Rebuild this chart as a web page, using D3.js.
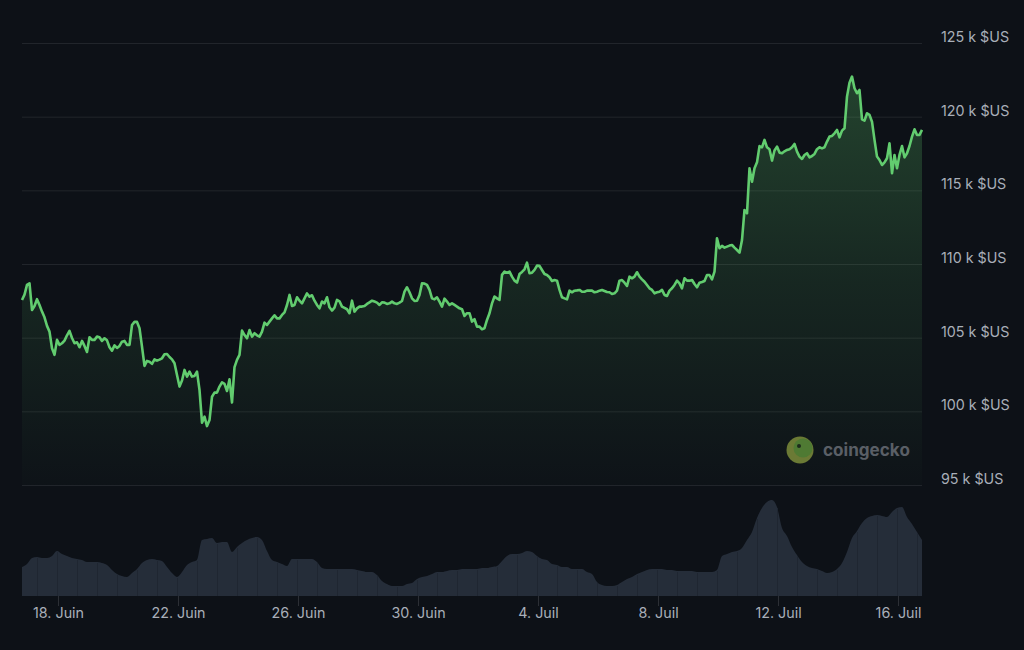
<!DOCTYPE html>
<html lang="fr"><head><meta charset="utf-8">
<script src="https://cdn.jsdelivr.net/npm/d3@7/dist/d3.min.js"></script>
<style>
html,body{margin:0;padding:0;background:#0d1117;overflow:hidden}
svg{display:block}
text{font-family:Inter,"Noto Sans",sans-serif}
</style></head><body>
<svg id="c" width="1024" height="650"></svg>
<script>
// Price in k$US, one reading every 2 hours
const prices = [107.56,107.92,108.58,108.69,106.88,107.15,107.61,107.22,106.77,106.38,105.80,105.41,104.28,103.83,104.85,104.51,104.62,104.80,105.16,105.46,104.98,104.62,104.69,104.35,104.78,104.44,104.03,105.03,104.85,104.85,105.07,105.03,104.78,104.96,104.82,104.35,104.12,104.48,104.30,104.44,104.73,104.78,104.51,104.51,105.86,106.07,106.07,105.64,104.39,103.08,103.42,103.37,103.22,103.53,103.44,103.51,103.60,103.87,103.89,103.69,103.53,103.26,102.47,101.68,102.09,102.81,102.36,102.70,102.36,102.40,102.70,101.45,99.23,99.64,99.00,99.41,100.99,101.27,101.27,101.68,101.97,101.86,101.38,102.18,100.60,103.00,103.49,103.83,105.48,105.18,104.96,105.52,105.07,105.30,105.16,105.07,105.41,106.02,105.86,106.09,106.31,106.52,106.31,106.31,106.54,106.72,107.22,107.90,107.15,107.22,107.74,107.51,
107.33,107.67,108.00,107.79,107.88,107.51,107.22,106.99,107.45,107.33,107.74,107.06,106.84,107.04,107.56,107.47,107.11,107.02,106.93,106.66,107.51,106.77,106.99,107.11,107.11,107.15,107.29,107.40,107.51,107.45,107.38,107.22,107.40,107.38,107.29,107.33,107.45,107.33,107.29,107.38,107.49,108.13,108.42,108.08,107.67,107.49,107.51,107.90,108.69,108.67,108.58,108.24,107.67,107.60,107.74,107.45,107.11,107.65,107.45,107.22,107.33,107.22,107.11,106.99,106.93,106.47,106.66,106.66,106.09,106.25,105.75,105.75,105.57,105.64,106.20,106.66,107.33,107.79,107.67,107.56,109.26,109.48,109.41,109.48,109.14,108.87,108.74,109.32,109.46,109.64,110.09,109.37,109.41,109.60,
109.89,109.87,109.59,109.32,109.25,109.10,108.85,108.91,108.87,108.24,107.74,107.67,107.60,108.19,108.08,108.19,108.21,108.24,108.12,108.12,108.19,108.19,108.19,108.08,108.12,108.19,108.24,108.17,108.10,108.08,107.96,108.01,108.19,108.87,108.91,108.73,108.51,109.14,109.03,109.14,109.44,109.14,108.96,108.80,108.58,108.35,108.24,108.01,108.08,108.12,108.24,107.90,107.83,108.19,108.35,108.58,108.87,108.69,108.35,109.03,108.87,108.87,108.91,108.64,108.42,108.73,108.78,108.85,109.25,109.25,108.96,109.48,
111.75,111.07,111.23,111.11,111.18,111.25,111.29,111.11,110.95,110.77,111.63,113.67,113.44,116.50,115.59,116.50,116.90,118.00,117.92,118.42,117.92,117.79,117.02,117.70,117.97,117.56,117.52,117.65,117.74,117.79,117.92,118.15,117.63,117.29,117.13,117.40,117.52,117.24,117.33,117.47,117.79,117.92,117.85,117.92,118.31,118.65,118.69,118.87,119.10,118.60,119.05,119.21,121.36,122.31,122.72,121.93,121.59,121.81,119.82,119.73,120.23,120.12,119.66,118.42,117.29,117.06,116.72,116.90,117.18,118.19,116.16,117.40,116.50,117.40,118.01,117.24,117.52,118.01,118.65,119.14,118.76,118.76,119.10];
// Traded volume (Md$US, relative), one reading every 4 hours
const volumes = [29,32,38,39,38,38,40,45,42,40,38,37,36,34,34,34,33,31,26,22,20,19,23,27,33,36,37,36,35,29,23,19,24,31,34,36,56,57,58,53,54,54,44,49,53,56,58,59,56,45,36,34,32,30,37,37,37,37,37,34,28,27,27,27,27,27,27,26,25,24,24,21,15,12,10,10,10,12,13,17,19,20,22,24,24,25,26,26,27,27,27,27,28,28,29,30,35,40,42,42,43,45,44,40,37,36,32,31,29,29,27,27,27,24,22,14,11,10,10,11,14,17,19,22,24,26,27,27,27,26,26,25,25,25,25,24,24,24,24,26,40,42,44,45,48,56,64,78,88,94,96,89,68,60,49,41,34,30,28,27,25,23,24,27,33,44,58,65,73,78,80,81,80,79,84,88,89,79,72,64,56];
const priceTicks = [95,100,105,110,115,120,125];
const priceLabels = ["95 k $US","100 k $US","105 k $US","110 k $US","115 k $US","120 k $US","125 k $US"];
const dateTicks = ["2025-06-18","2025-06-22","2025-06-26","2025-06-30","2025-07-04","2025-07-08","2025-07-12","2025-07-16"];
const dateLabels = ["18. Juin","22. Juin","26. Juin","30. Juin","4. Juil","8. Juil","12. Juil","16. Juil"];
const startTime = Date.UTC(2025,5,16,19,12);
const HOUR = 3600e3;

const svg = d3.select("#c");
const x = d3.scaleUtc().domain([new Date(startTime), new Date(startTime+720*HOUR)]).range([22,922]);
const y = d3.scaleLinear().domain([95,125]).range([485,43]);
const yV = d3.scaleLinear().domain([0,100]).range([596,496]);
const priceTime = i => new Date(startTime + i*2*HOUR);
const volTime = i => new Date(startTime + i*4*HOUR);

const defs = svg.append("defs");
const g = defs.append("linearGradient").attr("id","fade").attr("gradientUnits","userSpaceOnUse")
  .attr("x1",0).attr("x2",0).attr("y1",y(122.7)).attr("y2",y(95));
g.append("stop").attr("offset",0).attr("stop-color","#5fc96c").attr("stop-opacity",0.27);
g.append("stop").attr("offset",0.5).attr("stop-color","#5fc96c").attr("stop-opacity",0.12);
g.append("stop").attr("offset",1).attr("stop-color","#5fc96c").attr("stop-opacity",0.01);

// Grid
svg.append("g").selectAll("line").data(priceTicks).join("line")
  .attr("x1",22).attr("x2",922).attr("y1",d=>y(d)+.5).attr("y2",d=>y(d)+.5)
  .attr("stroke","#ffffff").attr("stroke-opacity",0.085);

// Volume: continuous silhouette with thin darker seams every fourth reading
const volArea = d3.area().x((d,i)=>x(volTime(i))).y0(yV(0)).y1(d=>yV(d)).curve(d3.curveMonotoneX);
svg.append("path").datum(volumes).attr("d",volArea).attr("fill","#252d39");
svg.append("g").selectAll("line").data(volumes.map((v,i)=>({v,i})).filter(d=>d.i%4===3)).join("line")
  .attr("x1",d=>x(volTime(d.i))+.5).attr("x2",d=>x(volTime(d.i))+.5)
  .attr("y1",d=>yV(d.v)+1).attr("y2",yV(0))
  .attr("stroke","#1f2631").attr("stroke-width",1);

// Price area + line
const area = d3.area().x((d,i)=>x(priceTime(i))).y0(y(95)).y1(d=>y(d));
const line = d3.line().x((d,i)=>x(priceTime(i))).y(d=>y(d));
svg.append("path").datum(prices).attr("d",area).attr("fill","url(#fade)");
svg.append("path").datum(prices).attr("d",line).attr("fill","none")
  .attr("stroke","#62cc6f").attr("stroke-width",2.6).attr("stroke-linejoin","round");

// Right axis
const yAxis = d3.axisRight(y).tickValues(priceTicks).tickSize(0).tickPadding(0)
  .tickFormat((d,i)=>priceLabels[i]);
const ya = svg.append("g").attr("transform","translate(941,-6)").call(yAxis);
ya.select(".domain").remove();
ya.selectAll("text").attr("fill","#a9afb9").attr("font-size",14.3).style("font-family","Inter,'Noto Sans',sans-serif");

// Bottom axis
const xAxis = d3.axisBottom(x).tickValues(dateTicks.map(d=>new Date(d))).tickSize(10).tickPadding(2)
  .tickFormat((d,i)=>dateLabels[i]);
const xa = svg.append("g").attr("transform","translate(0,596)").call(xAxis);
xa.select(".domain").remove();
xa.selectAll("line").attr("stroke","#ffffff").attr("stroke-opacity",0.13);
xa.selectAll("text").attr("fill","#a9afb9").attr("font-size",14.3).style("font-family","Inter,'Noto Sans',sans-serif");

// Watermark
const wm = svg.append("g");
wm.append("circle").attr("cx",800).attr("cy",450).attr("r",13.5).attr("fill","#6b7a35");
wm.append("circle").attr("cx",803).attr("cy",448).attr("r",9.5).attr("fill","#4f7a33");
wm.append("circle").attr("cx",799).attr("cy",446).attr("r",2).attr("fill","#1c2a1c");
wm.append("text").attr("x",823).attr("y",456).attr("fill","#5a5f66").attr("font-size",17.1)
  .attr("font-weight",700).text("coingecko");
</script></body></html>
